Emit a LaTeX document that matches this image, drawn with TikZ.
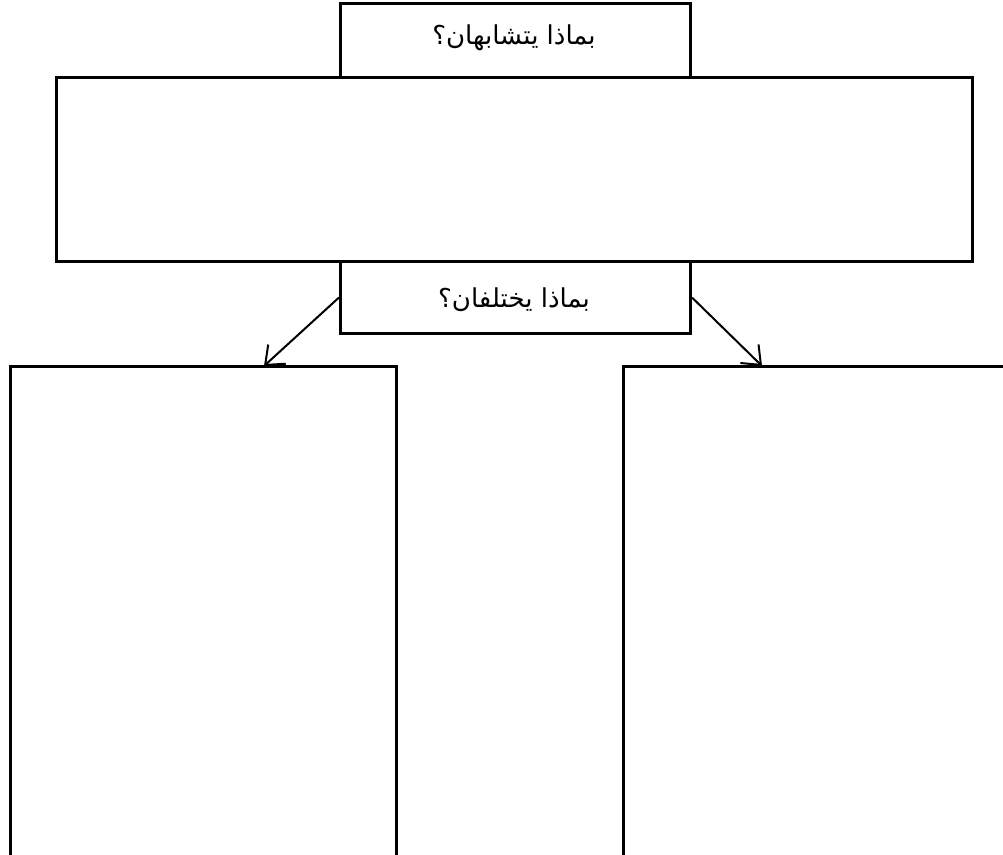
\documentclass[tikz,border=0pt]{standalone}
\usepackage{fontspec}
\usetikzlibrary{arrows.meta}
\newfontfamily\arabicfont[Script=Arabic]{DejaVu Sans}
\TeXXeTstate=1
\tikzset{
  box/.style={draw=black, line width=3pt, fill=white, inner sep=0pt, anchor=north west},
  lbl/.style={font=\arabicfont\fontsize{26}{30}\selectfont},
  arr/.style={line width=2pt, -{Straight Barb[length=16pt,width=26pt,line width=2pt]}}
}
\begin{document}
\begin{tikzpicture}[x=1pt,y=-1pt]
\useasboundingbox (0,0) rectangle (1003,854);
\clip (0,0) rectangle (1003,854);
\node[box, minimum width=350pt, minimum height=80pt] (top) at (339,2) {};
\node[box, minimum width=916pt, minimum height=184pt] (big) at (55,76) {};
\node[box, minimum width=350pt, minimum height=72pt] (mid) at (339,260) {};
\node[lbl] (t1) at (514,38) {\beginR بماذا يتشابهان؟\endR};
\node[lbl] (t2) at (514,300) {\beginR بماذا يختلفان؟\endR};
\node[box, minimum width=386pt, minimum height=520pt] (L) at (9,365) {};
\node[box, minimum width=420pt, minimum height=520pt] (R) at (622,365) {};
\coordinate (la) at (264,366);
\coordinate (ra) at (762,366);
\draw[arr] (mid.west) -- (la);
\draw[arr] (mid.east) -- (ra);
\end{tikzpicture}
\end{document}
